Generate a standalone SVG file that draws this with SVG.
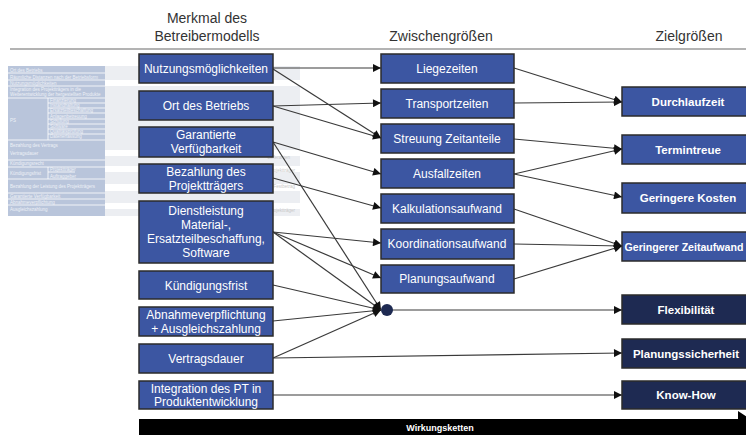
<svg xmlns="http://www.w3.org/2000/svg" width="746" height="435" viewBox="0 0 746 435">
<defs>
<style>
.hdr{font-family:"Liberation Sans",Arial,sans-serif;font-size:14px;fill:#333;text-anchor:middle}
.nb{fill:#3c56a2;stroke:#2b2b2b;stroke-width:1.5}
.nd{fill:#1e2a52;stroke:#2b2b2b;stroke-width:1.5}
.t{font-family:"Liberation Sans",Arial,sans-serif;font-size:12px;fill:#fff;text-anchor:middle}
.tb{font-family:"Liberation Sans",Arial,sans-serif;font-size:11.5px;font-weight:bold;fill:#fff;text-anchor:middle}
.c{stroke:#3a3a3a;stroke-width:1.2;fill:none;marker-end:url(#arr)}
.tt{font-family:"Liberation Sans",Arial,sans-serif;font-size:4.5px;fill:#eef1f7}
.tg{font-family:"Liberation Sans",Arial,sans-serif;font-size:4.5px;fill:#c8c8c8}
</style>
<marker id="arr" markerUnits="userSpaceOnUse" markerWidth="9" markerHeight="8" viewBox="0 0 10 10" refX="10" refY="5" orient="auto">
<path d="M0,0 L10,5 L0,10 z" fill="#111"/>
</marker>
</defs>
<rect width="746" height="435" fill="#fff"/>

<g id="bg-table">
<rect x="8" y="66" width="292" height="150" fill="#eceef2"/>
<rect x="105" y="80" width="195" height="6" fill="#fff"/>
<rect x="105" y="150" width="195" height="6" fill="#fff"/>
<rect x="105" y="166" width="195" height="6" fill="#fff"/>
<rect x="105" y="184" width="195" height="7" fill="#fff"/>
<rect x="105" y="203" width="195" height="6" fill="#fff"/>
<rect x="8" y="66" width="97" height="150" fill="#b9c5db"/>
<g stroke="#fff" stroke-width="0.8">
<line x1="8" y1="73" x2="105" y2="73"/>
<line x1="8" y1="80" x2="105" y2="80"/>
<line x1="8" y1="86" x2="105" y2="86"/>
<line x1="8" y1="98" x2="105" y2="98"/>
<line x1="48" y1="98" x2="48" y2="140"/>
<line x1="48" y1="103" x2="105" y2="103"/>
<line x1="48" y1="108" x2="105" y2="108"/>
<line x1="48" y1="113" x2="105" y2="113"/>
<line x1="48" y1="119" x2="105" y2="119"/>
<line x1="48" y1="124" x2="105" y2="124"/>
<line x1="48" y1="129" x2="105" y2="129"/>
<line x1="48" y1="134" x2="105" y2="134"/>
<line x1="8" y1="140" x2="105" y2="140"/>
<line x1="8" y1="160" x2="105" y2="160"/>
<line x1="8" y1="167" x2="105" y2="167"/>
<line x1="48" y1="172" x2="75" y2="172"/>
<line x1="48" y1="167" x2="48" y2="179"/>
<line x1="8" y1="179" x2="105" y2="179"/>
<line x1="8" y1="193" x2="105" y2="193"/>
<line x1="8" y1="199" x2="105" y2="199"/>
<line x1="8" y1="205" x2="105" y2="205"/>
</g>
<text class="tt" x="10" y="71.5">Ort des Betriebs</text>
<text class="tt" x="10" y="78.5">Räumliche Distanzen nach der Betriebsform</text>
<text class="tt" x="10" y="84.5">Nutzungsmöglichkeiten</text>
<text class="tt" x="10" y="91">Integration des Projektträgers in die</text>
<text class="tt" x="10" y="96">Weiterentwicklung der hergestellten Produkte</text>
<text class="tt" x="10" y="122">PS</text>
<text class="tt" x="50" y="102">Finanzierung</text>
<text class="tt" x="50" y="107">Instandhaltung</text>
<text class="tt" x="50" y="112">Ersatzteilbeschaffung</text>
<text class="tt" x="50" y="117.5">Anlagenbetreuung</text>
<text class="tt" x="50" y="122.5">Schulung</text>
<text class="tt" x="50" y="127.5">Software</text>
<text class="tt" x="50" y="132.5">Qualitätsprüfung</text>
<text class="tt" x="50" y="138">Datenerfassung</text>
<text class="tt" x="10" y="147">Bezahlung des Vertrags</text>
<text class="tt" x="10" y="155">Vertragsdauer</text>
<text class="tt" x="10" y="165">Kündigungsrecht</text>
<text class="tt" x="10" y="175">Kündigungsfrist</text>
<text class="tt" x="50" y="171">Projektträger</text>
<text class="tt" x="50" y="177.5">Auftraggeber</text>
<text class="tt" x="10" y="188">Bezahlung der Leistung des Projektträgers</text>
<text class="tt" x="10" y="197.5">Garantierte Verfügbarkeit</text>
<text class="tt" x="10" y="203.5">Abnahmeverpflichtung</text>
<text class="tt" x="10" y="211">Ausgleichszahlung</text>
<text class="tg" x="290" y="159" text-anchor="end">Lieferanten</text>
<text class="tg" x="295" y="172" text-anchor="end">Projektträger</text>
<text class="tg" x="295" y="188" text-anchor="end">Festbetrag</text>
<text class="tg" x="295" y="212" text-anchor="end">Projektträger</text>
</g>

<g id="headers">
<text class="hdr" x="207" y="23">Merkmal des</text>
<text class="hdr" x="207" y="41">Betreibermodells</text>
<text class="hdr" x="441" y="41">Zwischengrößen</text>
<text class="hdr" x="689" y="41">Zielgrößen</text>
<line x1="10" y1="49" x2="746" y2="49" stroke="#9a9a9a" stroke-width="1.5"/>
</g>

<g id="connectors">
<path class="c" d="M273,68 L381,68"/>
<path class="c" d="M273,69 L381,138"/>
<path class="c" d="M273,106 L381,103"/>
<path class="c" d="M273,106 L381,138"/>
<path class="c" d="M273,142 L381,174"/>
<path class="c" d="M273,142 L381,310"/>
<path class="c" d="M273,178 L381,208"/>
<path class="c" d="M273,232 L381,243"/>
<path class="c" d="M273,232 L381,278"/>
<path class="c" d="M273,232 L381,310"/>
<path class="c" d="M273,285 L381,310"/>
<path class="c" d="M273,321 L381,310"/>
<path class="c" d="M273,358 L381,310"/>
<path class="c" d="M273,358 L622,353"/>
<path class="c" d="M273,395 L622,395"/>
<path class="c" d="M391,310 L622,310"/>
<path class="c" d="M514,68 L622,102"/>
<path class="c" d="M514,103 L622,102"/>
<path class="c" d="M514,139 L622,149"/>
<path class="c" d="M514,174 L622,149"/>
<path class="c" d="M514,174 L622,197"/>
<path class="c" d="M514,209 L622,246"/>
<path class="c" d="M514,244 L622,246"/>
<path class="c" d="M514,279 L622,246"/>
</g>

<g id="junction"><circle cx="387" cy="310" r="6" fill="#1e2a52"/></g>

<g id="n-nutzung"><rect class="nb" x="139" y="54" width="134" height="29"/><text class="t" x="206" y="72.5">Nutzungsmöglichkeiten</text></g>
<g id="n-ort"><rect class="nb" x="139" y="91" width="134" height="29"/><text class="t" x="206" y="109.5">Ort des Betriebs</text></g>
<g id="n-garantiert"><rect class="nb" x="139" y="127" width="134" height="30"/><text class="t" x="206" y="139">Garantierte</text><text class="t" x="206" y="153">Verfügbarkeit</text></g>
<g id="n-bezahlung"><rect class="nb" x="139" y="164" width="134" height="29"/><text class="t" x="206" y="176">Bezahlung  des</text><text class="t" x="206" y="190">Projektträgers</text></g>
<g id="n-dienst"><rect class="nb" x="139" y="201" width="134" height="62"/><text class="t" x="206" y="215">Dienstleistung</text><text class="t" x="206" y="229">Material-,</text><text class="t" x="206" y="243">Ersatzteilbeschaffung,</text><text class="t" x="206" y="257">Software</text></g>
<g id="n-kuendigung"><rect class="nb" x="139" y="271" width="134" height="28"/><text class="t" x="206" y="289.5">Kündigungsfrist</text></g>
<g id="n-abnahme"><rect class="nb" x="139" y="307" width="134" height="29"/><text class="t" x="206" y="319">Abnahmeverpflichtung</text><text class="t" x="206" y="333">+ Ausgleichszahlung</text></g>
<g id="n-vertrag"><rect class="nb" x="139" y="344" width="134" height="29"/><text class="t" x="206" y="362.5">Vertragsdauer</text></g>
<g id="n-integration"><rect class="nb" x="139" y="381" width="134" height="28"/><text class="t" x="206" y="393">Integration des PT in</text><text class="t" x="206" y="406">Produktentwicklung</text></g>

<g id="m-liege"><rect class="nb" x="381" y="54" width="133" height="29"/><text class="t" x="447" y="72.5">Liegezeiten</text></g>
<g id="m-transport"><rect class="nb" x="381" y="89" width="133" height="29"/><text class="t" x="447" y="107.5">Transportzeiten</text></g>
<g id="m-streuung"><rect class="nb" x="381" y="124" width="133" height="29"/><text class="t" x="447" y="142.5">Streuung  Zeitanteile</text></g>
<g id="m-ausfall"><rect class="nb" x="381" y="159" width="133" height="29"/><text class="t" x="447" y="177.5">Ausfallzeiten</text></g>
<g id="m-kalk"><rect class="nb" x="381" y="194" width="133" height="29"/><text class="t" x="447" y="212.5">Kalkulationsaufwand</text></g>
<g id="m-koord"><rect class="nb" x="381" y="229" width="133" height="30"/><text class="t" x="447" y="248">Koordinationsaufwand</text></g>
<g id="m-planung"><rect class="nb" x="381" y="265" width="133" height="28"/><text class="t" x="447" y="283">Planungsaufwand</text></g>

<g id="z-durchlauf"><rect class="nb" x="622" y="87" width="134" height="29"/><text class="tb" x="688" y="105.5">Durchlaufzeit</text></g>
<g id="z-termin"><rect class="nb" x="622" y="135" width="134" height="29"/><text class="tb" x="688" y="153.5">Termintreue</text></g>
<g id="z-kosten"><rect class="nb" x="622" y="183" width="134" height="30"/><text class="tb" x="688" y="202">Geringere Kosten</text></g>
<g id="z-zeitaufwand"><rect class="nb" x="622" y="232" width="134" height="29"/><text class="tb" x="684" y="250.5" style="font-size:10.6px">Geringerer Zeitaufwand</text></g>
<g id="z-flex"><rect class="nd" x="622" y="295" width="134" height="29"/><text class="tb" x="686" y="313.5">Flexibilität</text></g>
<g id="z-planungssicherheit"><rect class="nd" x="622" y="339" width="134" height="29"/><text class="tb" x="686" y="357.5">Planungssicherheit</text></g>
<g id="z-knowhow"><rect class="nd" x="622" y="381" width="134" height="28"/><text class="tb" x="686" y="399">Know-How</text></g>

<g id="wirkungsketten">
<polygon points="139,419 738,419 738,411 762,427 738,443 738,435 139,435" fill="#000"/>
<text x="440" y="430.5" font-family="Liberation Sans, Arial, sans-serif" font-size="9" font-weight="bold" fill="#fff" text-anchor="middle">Wirkungsketten</text>
</g>
</svg>
